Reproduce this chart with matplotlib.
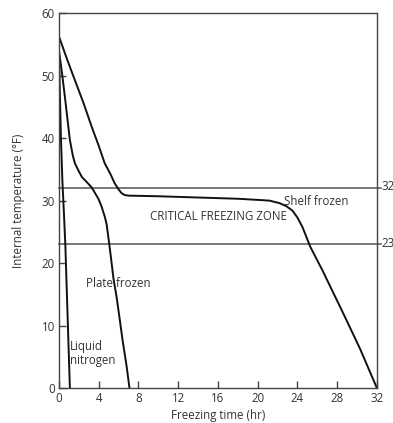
import matplotlib
matplotlib.use("Agg")
import matplotlib.pyplot as plt

plt.rcParams['font.family'] = ['Open Sans', 'DejaVu Sans']

# Data
ln_time = [0, 0.08, 0.2, 0.35, 0.5, 0.65, 0.8, 0.95, 1.1]
ln_temp = [54.5, 48, 40, 33, 28, 22.6, 15, 7.5, 0]

plate_time = [0, 0.3, 0.6, 1.1, 1.4, 1.6, 2.0, 2.3, 2.9, 3.3, 3.6, 4.0, 4.3, 4.6, 4.8, 5.1, 5.5, 5.8, 6.1, 6.4, 6.8, 7.1]
plate_temp = [54, 50.5, 46.6, 39.7, 37.2, 36, 34.7, 33.8, 32.8, 32.1, 31.3, 30.2, 29, 27.5, 26.2, 22.6, 17.4, 14.6, 11.2, 7.7, 3.6, 0]

shelf_time = [0, 0.8, 1.6, 2.5, 3.3, 4.0, 4.6, 5.2, 5.6, 6.0, 6.3, 6.6, 7.0, 10, 14, 18, 20.2, 21.2, 22.2, 22.9, 23.5, 24.0, 24.5, 25.3, 26.5, 28.6, 30.3, 32]
shelf_temp = [56.3, 52.7, 49.3, 45.5, 41.8, 38.8, 36, 34.2, 32.8, 31.8, 31.2, 30.9, 30.8, 30.7, 30.5, 30.3, 30.1, 30.0, 29.6, 29.1, 28.4, 27.3, 25.8, 22.6, 18.9, 12, 6.3, 0]

zone_levels = [32, 23]
x_ticks = [0, 4, 8, 12, 16, 20, 24, 28, 32]
y_ticks = [0, 10, 20, 30, 40, 50, 60]

txt = '#333333'
fs = 8.3
fig = plt.figure(figsize=(3.93, 4.23), dpi=100)
ax = fig.add_axes([0.150, 0.0827, 0.809, 0.886])

for lv in zone_levels:
    ax.plot([0, 32.4], [lv, lv], color='#555555', lw=1.1, clip_on=False)
    ax.text(32.45, lv + 0.2, str(lv), ha='left', va='center', fontsize=fs, color=txt, clip_on=False)

for t, v in [(ln_time, ln_temp), (plate_time, plate_temp), (shelf_time, shelf_temp)]:
    ax.plot(t, v, color='#111111', lw=1.4, solid_joinstyle='round')

ax.text(25.9, 29.9, 'Shelf frozen', ha='center', va='center', fontsize=fs, color=txt)
ax.text(16.1, 27.5, 'CRITICAL FREEZING ZONE', ha='center', va='center', fontsize=fs, color=txt)
ax.text(6.0, 16.8, 'Plate frozen', ha='center', va='center', fontsize=fs, color=txt)
ax.text(1.1, 5.6, 'Liquid\nnitrogen', ha='left', va='center', fontsize=fs, color=txt, linespacing=1.1)

ax.set_xlim(0, 32)
ax.set_ylim(0, 60)
ax.set_xticks(x_ticks)
ax.set_yticks(y_ticks)
ax.tick_params(direction='in', length=5, width=1, colors='#444444', labelcolor=txt, labelsize=fs, pad=3)
for s in ax.spines.values():
    s.set_color('#444444')
    s.set_linewidth(1.0)

ax.set_xlabel('Freezing time (hr)', fontsize=fs, color=txt, labelpad=3)
ax.set_ylabel('Internal temperature (°F)', fontsize=fs, color=txt, labelpad=12)

fig.savefig('out.png', dpi=100)
